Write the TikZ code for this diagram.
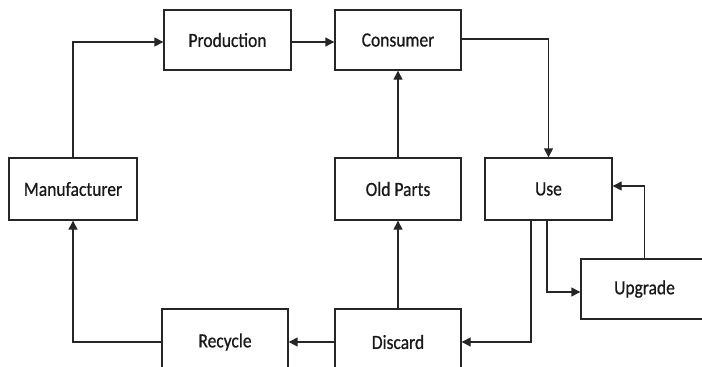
\documentclass[tikz,border=0pt]{standalone}
\usepackage{fontspec}
\setmainfont{Carlito}[FakeBold=0.7]
\usetikzlibrary{arrows.meta}
\newcommand{\tx}[1]{\scalebox{1}[1.15]{#1}}
\begin{document}
\begin{tikzpicture}[x=1pt,y=-1pt,
  box/.style={draw=black!85, line width=1.4pt, fill=white, inner sep=0pt,
    font=\fontsize{17.5}{20}\selectfont, text=black!90},
  conn/.style={draw=black!85, line width=1.4pt, -{Triangle[length=9pt,width=9pt]}}]
\useasboundingbox (0,0) rectangle (702,367);
\clip (0,0) rectangle (702,367);
\fill[white] (0,0) rectangle (702,367);
\node[box, minimum width=127pt, minimum height=60pt] (prod) at (227.5,40) {\tx{Production}};
\node[box, minimum width=126pt, minimum height=60pt] (cons) at (398,40) {\tx{Consumer}};
\node[box, minimum width=128pt, minimum height=62pt] (mfr) at (73,189) {\tx{Manufacturer}};
\node[box, minimum width=126pt, minimum height=62pt] (old) at (398,189) {\tx{Old Parts}};
\node[box, minimum width=127pt, minimum height=62pt] (use) at (548.5,189) {\tx{Use}};
\node[box, minimum width=127pt, minimum height=60pt] (upg) at (644.5,289) {\tx{Upgrade}};
\node[box, minimum width=126pt, minimum height=66pt] (rec) at (225,342) {\tx{Recycle}};
\node[box, minimum width=126pt, minimum height=66pt] (dis) at (398,342) {\tx{Discard}};
\draw[conn] (mfr.north) |- ([yshift=-2pt]prod.west);
\draw[conn] ([yshift=-2pt]prod.east) -- ([yshift=-2pt]cons.west);
\draw[conn] ([yshift=1pt]cons.east) -| (use.north);
\draw[conn] (old.north) -- (cons.south);
\draw[conn] (dis.north) -- (old.south);
\draw[conn] (upg.north) |- ([yshift=3pt]use.east);
\draw[conn] ([xshift=-1.5pt]use.south) |- ([yshift=-3pt]upg.west);
\draw[conn] ([xshift=-17.5pt]use.south) |- (dis.east);
\draw[conn] (dis.west) -- (rec.east);
\draw[conn] (rec.west) -| (mfr.south);
\end{tikzpicture}
\end{document}
